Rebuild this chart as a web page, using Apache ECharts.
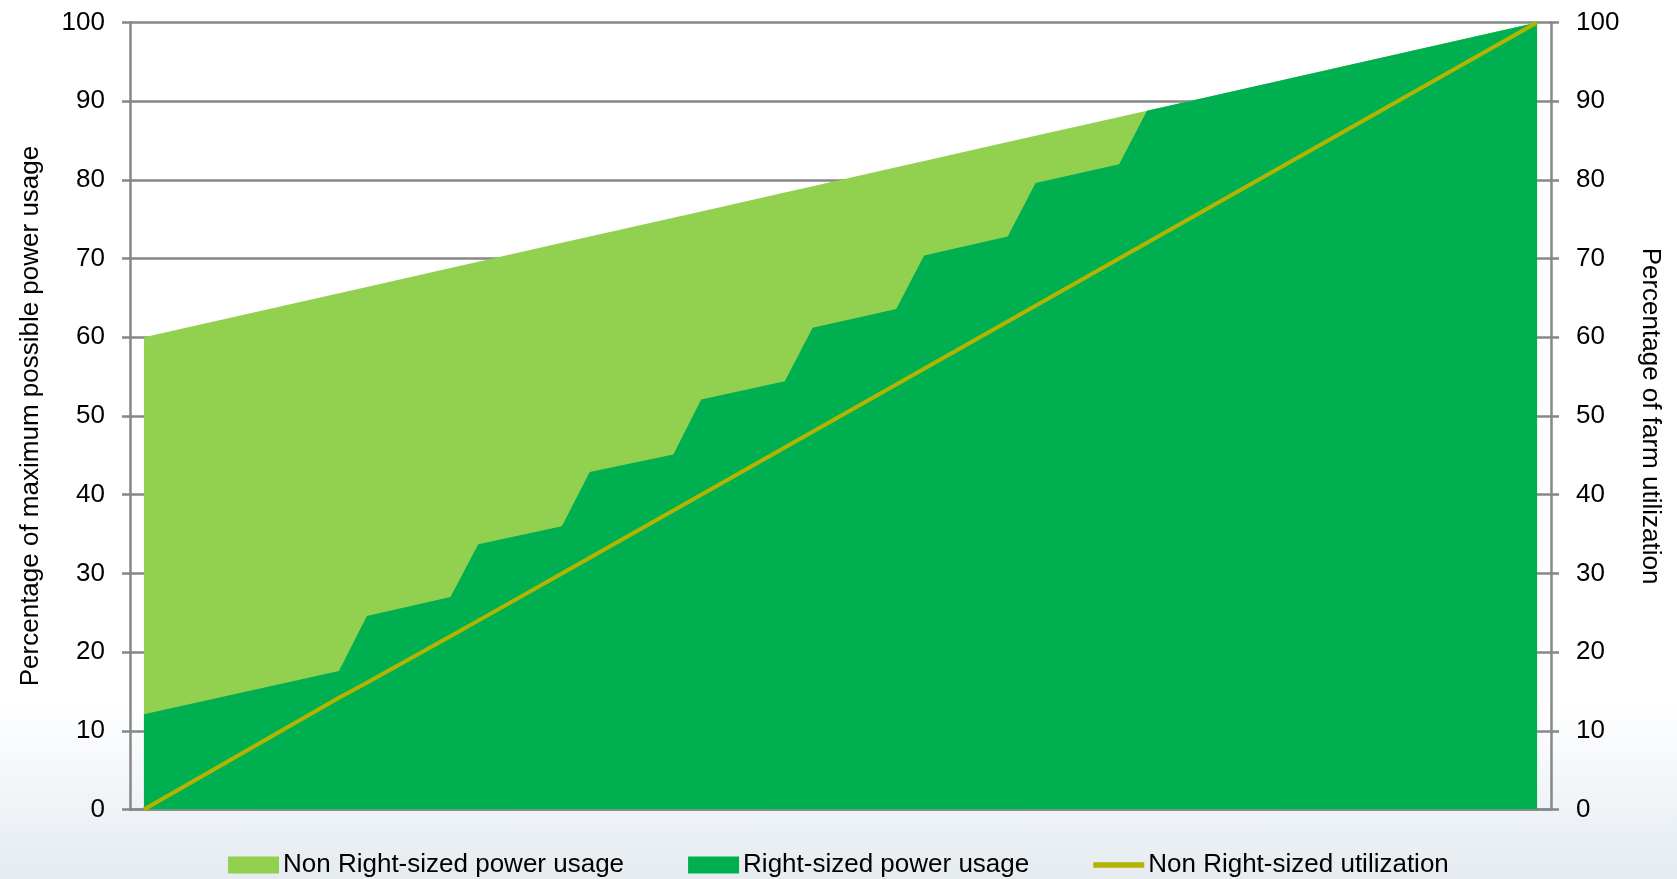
<!DOCTYPE html>
<html>
<head>
<meta charset="utf-8">
<script src="https://cdn.jsdelivr.net/npm/echarts@6/dist/echarts.min.js"></script>
<style>
  html, body { margin: 0; padding: 0; width: 1677px; height: 879px; overflow: hidden;
    background: linear-gradient(to bottom, #ffffff 0%, #ffffff 80%, #f5f8fb 87%, #ebf0f4 95%, #e6ebf0 100%); }
  #chart { width: 1677px; height: 879px; }
</style>
</head>
<body>
<div id="chart"></div>
<script>
// Farm utilization (%) at which each sample is taken
const xPoints = [0, 14, 16, 22, 24, 30, 32, 38, 40, 46, 48, 54, 56, 62, 64, 70, 72, 100];
// Non Right-sized power usage (% of max possible)
const nonRightSized = [60, 65.6, 66.4, 68.8, 69.6, 72, 72.8, 75.2, 76, 78.4, 79.2, 81.6, 82.4, 84.8, 85.6, 88, 88.8, 100];
// Right-sized power usage (% of max possible)
const rightSized = [12.1, 17.6, 24.6, 27, 33.7, 36, 42.9, 45.1, 52.1, 54.4, 61.2, 63.6, 70.4, 72.8, 79.6, 82, 88.8, 100];
// Non Right-sized utilization (% of farm)
const utilization = [0, 14.2, 16.1, 22, 24, 30, 32, 38, 40, 46, 48, 54, 56, 62, 64, 70, 72, 100];

const seriesNames = ['Non Right-sized power usage', 'Right-sized power usage', 'Non Right-sized utilization'];
const leftAxisTitle = 'Percentage of maximum possible power usage';
const rightAxisTitle = 'Percentage of farm utilization';

const pair = (ys) => xPoints.map((x, i) => [x, ys[i]]);

const FONT = "'Liberation Sans', Arial, sans-serif";
const GRAY = '#878787';
const C_LIGHT = '#92D050';
const C_DARK = '#00B050';
const C_LINE = '#B3B400';

const chart = echarts.init(document.getElementById('chart'), null, { renderer: 'canvas' });

const yAxisCommon = {
  type: 'value', min: 0, max: 100, interval: 10,
  axisLine: { show: true, onZero: false, lineStyle: { color: GRAY, width: 2.5 } },
  axisTick: { show: true, inside: false, length: 8, lineStyle: { color: GRAY, width: 2.5 } },
  axisLabel: { color: '#000', fontFamily: FONT, fontSize: 26, margin: 25 },
  nameLocation: 'middle',
  nameTextStyle: { color: '#000', fontFamily: FONT, fontSize: 26 }
};

chart.setOption({
  backgroundColor: 'transparent',
  animation: false,
  grid: { left: 130, right: 126, top: 22.5, bottom: 69.5, containLabel: false },
  legend: {
    bottom: -4, left: 223,
    itemWidth: 51, itemHeight: 17, itemGap: 64,
    textStyle: { color: '#000', fontFamily: FONT, fontSize: 26, padding: [0, 0, 0, -1] },
    symbolKeepAspect: true,
    data: [
      { name: seriesNames[0], icon: 'rect' },
      { name: seriesNames[1], icon: 'rect' },
      { name: seriesNames[2], icon: 'path://M0,0H54V6H0Z' }
    ]
  },
  xAxis: {
    type: 'value', min: -1, max: 101,
    axisLine: { show: true, onZero: false, lineStyle: { color: GRAY, width: 2.5 } },
    axisTick: { show: false }, axisLabel: { show: false }, splitLine: { show: false }
  },
  yAxis: [
    Object.assign({}, yAxisCommon, {
      position: 'left', name: leftAxisTitle, nameRotate: 90, nameGap: 86,
      splitLine: { show: true, lineStyle: { color: GRAY, width: 2.5 } }
    }),
    Object.assign({}, yAxisCommon, {
      position: 'right', name: rightAxisTitle, nameRotate: -90, nameGap: 86,
      splitLine: { show: false }
    })
  ],
  series: [
    {
      name: seriesNames[0], type: 'line', data: pair(nonRightSized),
      showSymbol: false, symbol: 'none', color: C_LIGHT,
      lineStyle: { width: 0, color: C_LIGHT }, areaStyle: { color: C_LIGHT, opacity: 1 }, z: 2
    },
    {
      name: seriesNames[1], type: 'line', data: pair(rightSized),
      showSymbol: false, symbol: 'none', color: C_DARK,
      lineStyle: { width: 0, color: C_DARK }, areaStyle: { color: C_DARK, opacity: 1 }, z: 3
    },
    {
      name: seriesNames[2], type: 'line', data: pair(utilization),
      showSymbol: false, symbol: 'none', color: C_LINE,
      lineStyle: { width: 4, color: C_LINE }, z: 4
    }
  ]
});
</script>
</body>
</html>
